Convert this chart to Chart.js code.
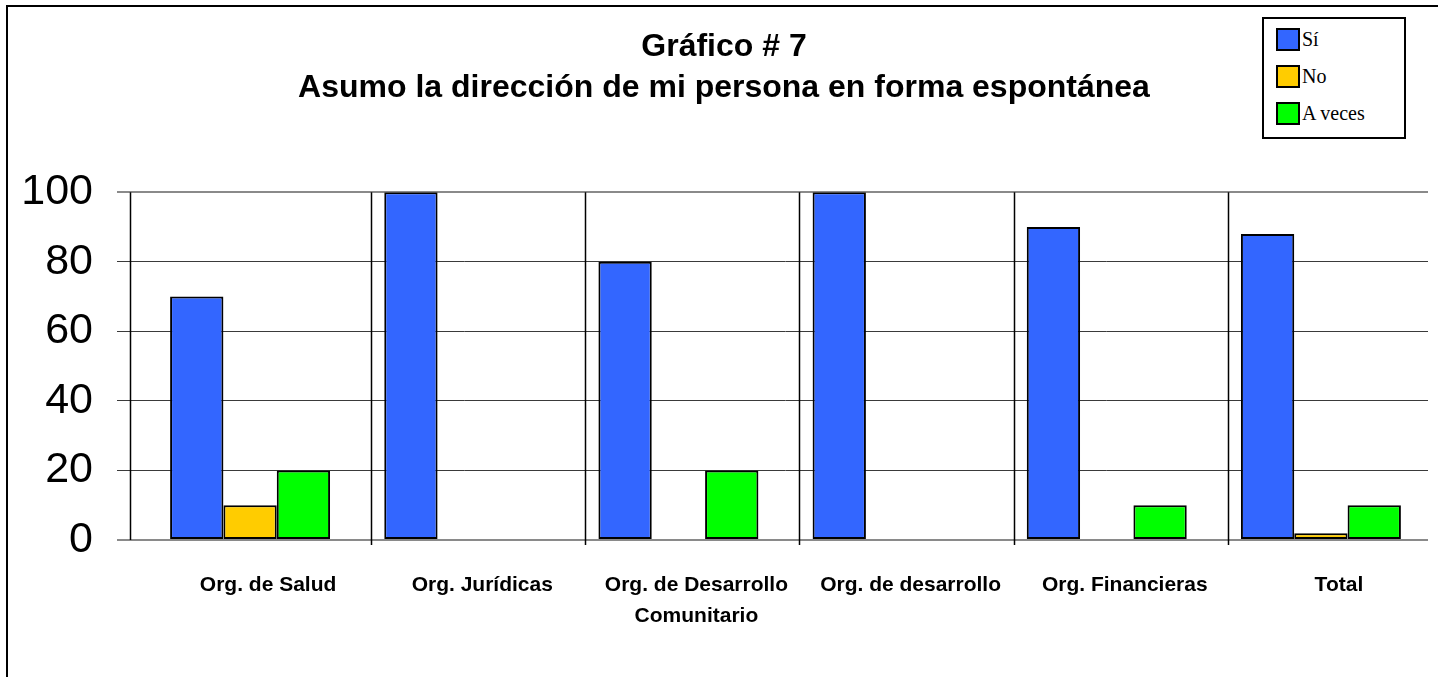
<!DOCTYPE html>
<html>
<head>
<meta charset="utf-8">
<script src="https://cdn.jsdelivr.net/npm/chart.js@4.4.0/dist/chart.umd.min.js"></script>
<style>
  body { margin: 0; background: #fff; }
  #wrap { position: relative; width: 1438px; height: 677px; overflow: hidden; }
  #frame { position: absolute; left: 6px; top: 5px; right: -10px; bottom: -10px;
           border-left: 2px solid #000; border-top: 2px solid #000; pointer-events: none; }
  #legend { position: absolute; left: 1262px; top: 17px; width: 140px; height: 118px;
            border: 2px solid #000; background: #fff; font-family: "Liberation Serif", "Times New Roman", serif;
            font-size: 20px; color: #000; }
  #legend .item { position: absolute; left: 12px; height: 24px; line-height: 24px; white-space: nowrap; }
  #legend .sw { display: inline-block; width: 20px; height: 19px; border: 2px solid #000;
                vertical-align: top; margin-right: 2px; margin-top: 1px; }
</style>
</head>
<body>
<div id="wrap">
  <canvas id="chart" width="1438" height="677"></canvas>
  <div id="frame"></div>
  <div id="legend"></div>
</div>
<script>
// categories and values
const categories = [
  "Org. de Salud",
  "Org. Jurídicas",
  ["Org. de Desarrollo", "Comunitario"],
  "Org. de desarrollo",
  "Org. Financieras",
  "Total"
];
const seriesNames = ["Sí", "No", "A veces"];
const siValues = [70, 100, 80, 100, 90, 88];
const noValues = [10, 0, 0, 0, 0, 2];
const aVecesValues = [20, 0, 20, 0, 10, 10];
const yTicks = [0, 20, 40, 60, 80, 100];

const colors = ["#3366FF", "#FFCC00", "#00FF00"];
const FONT = "'Liberation Sans', Arial, sans-serif";

// vertical separators between the groups + the y axis line
const separators = {
  id: "separators",
  afterDatasetsDraw(chart) {
    const x = chart.scales.x;
    const area = chart.chartArea;
    const ctx = chart.ctx;
    ctx.save();
    ctx.strokeStyle = "#000";
    ctx.lineWidth = 1.5;
    ctx.beginPath();
    const ax = Math.round(x.getPixelForValue(-0.56)) + 0.5;
    ctx.moveTo(ax, area.top);
    ctx.lineTo(ax, area.bottom);
    for (let i = 0; i < categories.length - 1; i++) {
      const px = Math.round(x.getPixelForValue(i + 0.565)) + 0.5;
      ctx.moveTo(px, area.top);
      ctx.lineTo(px, area.bottom + 5);
    }
    ctx.stroke();
    ctx.restore();
  }
};

// legend drawn as html in the boxed corner
const htmlLegend = {
  id: "htmlLegend",
  afterUpdate(chart) {
    const box = document.getElementById("legend");
    box.innerHTML = "";
    const items = Chart.defaults.plugins.legend.labels.generateLabels(chart);
    items.forEach((item, i) => {
      const row = document.createElement("div");
      row.className = "item";
      row.style.top = (8 + i * 37) + "px";
      row.innerHTML = `<span class="sw" style="background:${item.fillStyle}"></span>${item.text}`;
      box.appendChild(row);
    });
  }
};

new Chart(document.getElementById("chart"), {
  type: "bar",
  data: {
    labels: categories,
    datasets: [siValues, noValues, aVecesValues].map((values, i) => ({
      label: seriesNames[i],
      data: values,
      backgroundColor: colors[i],
      borderColor: "#000",
      borderWidth: 2,
      borderSkipped: false,
      categoryPercentage: 0.747,
      barPercentage: 1
    }))
  },
  options: {
    responsive: false,
    animation: false,
    layout: { padding: { left: 20, right: 10, top: 0, bottom: 24 } },
    plugins: {
      legend: { display: false },
      tooltip: { enabled: false },
      title: {
        display: true,
        text: ["Gráfico # 7", "Asumo la dirección de mi persona en forma espontánea"],
        color: "#000",
        font: { family: FONT, size: 32, weight: "bold", lineHeight: 1.3 },
        padding: { top: 26, bottom: 83 }
      }
    },
    scales: {
      x: {
        grid: { display: false },
        border: { display: false },
        ticks: {
          color: "#000",
          font: { family: FONT, size: 21, weight: "bold", lineHeight: 1.45 },
          padding: 22,
          labelOffset: 18,
          maxRotation: 0,
          autoSkip: false
        }
      },
      y: {
        min: 0,
        max: 100,
        afterBuildTicks(scale) { scale.ticks = yTicks.map(v => ({ value: v })); },
        afterFit(scale) { scale.width = 123; },
        border: { display: false },
        grid: {
          tickLength: 26,
          color: ctx => (ctx.tick && (ctx.tick.value === 0 || ctx.tick.value === 100)) ? "#8a8a8a" : "#3a3a3a",
          lineWidth: ctx => (ctx.tick && (ctx.tick.value === 0 || ctx.tick.value === 100)) ? 2 : 1
        },
        ticks: {
          color: "#000",
          font: { family: FONT, size: 43 },
          padding: 24
        }
      }
    }
  },
  plugins: [separators, htmlLegend]
});
</script>
</body>
</html>
